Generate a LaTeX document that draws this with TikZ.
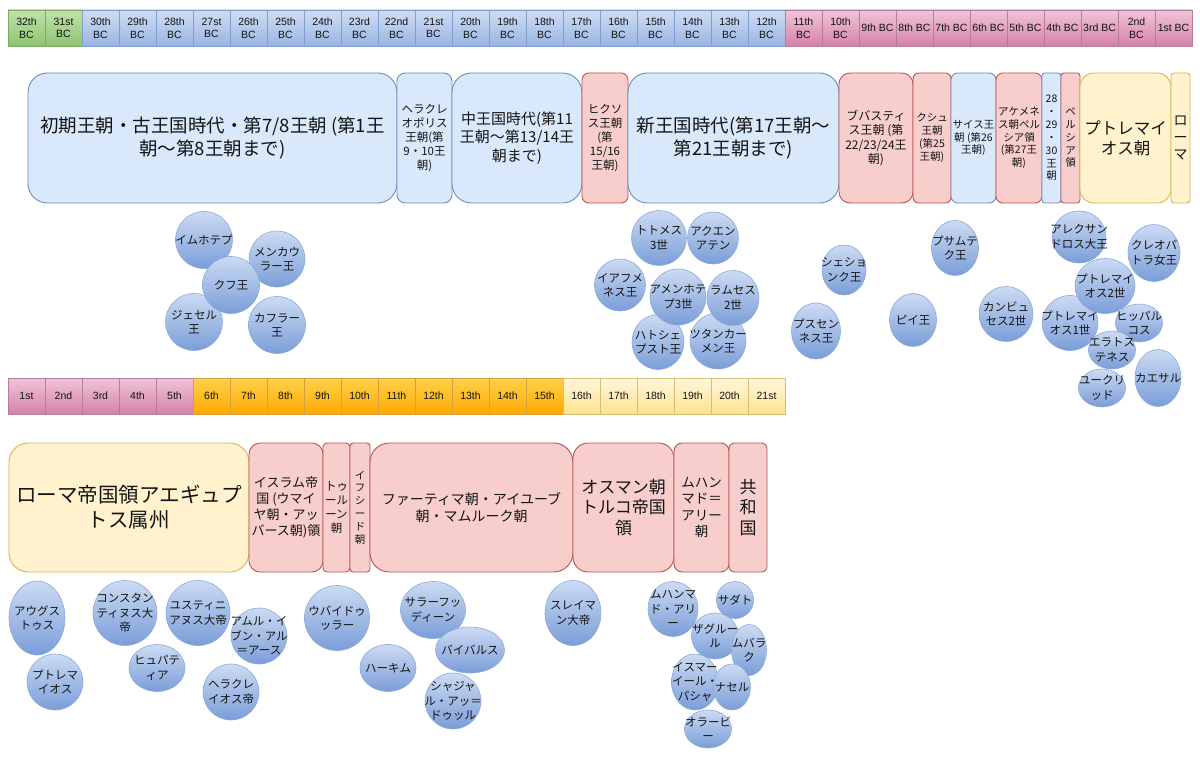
\documentclass[tikz,border=0pt]{standalone}
\usepackage{fontspec}
\setmainfont{Noto Sans CJK JP}
\newfontfamily\latinf{Liberation Sans}
\usetikzlibrary{shapes.geometric}
\definecolor{gtop}{RGB}{192,226,172}
\definecolor{gbot}{RGB}{142,196,112}
\definecolor{gbd}{RGB}{125,170,100}
\definecolor{btop}{RGB}{208,222,244}
\definecolor{bbot}{RGB}{152,180,226}
\definecolor{bbd}{RGB}{130,158,205}
\definecolor{ptop}{RGB}{240,196,216}
\definecolor{pbot}{RGB}{214,130,168}
\definecolor{pbd}{RGB}{180,125,155}
\definecolor{otop}{RGB}{255,210,75}
\definecolor{obot}{RGB}{255,168,0}
\definecolor{obd}{RGB}{215,160,60}
\definecolor{ytop}{RGB}{255,247,222}
\definecolor{ybot}{RGB}{255,226,140}
\definecolor{ybd}{RGB}{215,190,120}
\definecolor{blfill}{HTML}{DAE8FC}
\definecolor{blline}{HTML}{6C8EBF}
\definecolor{pkfill}{HTML}{F8CECC}
\definecolor{pkline}{HTML}{B85450}
\definecolor{ylfill}{HTML}{FFF2CC}
\definecolor{ylline}{HTML}{D6B656}
\definecolor{ctop}{RGB}{204,219,243}
\definecolor{cbot}{RGB}{122,157,216}
\definecolor{cbd}{RGB}{140,170,218}
\definecolor{txt}{RGB}{20,20,20}
\tikzset{
  cenbase/.style={minimum width=37pt, minimum height=36pt, inner sep=0pt, align=center,
    font=\latinf\fontsize{10.5}{12.5}\selectfont, line width=0.5pt, text=txt},
  cenG/.style={cenbase, draw=gbd, top color=gtop, bottom color=gbot},
  cenB/.style={cenbase, draw=bbd, top color=btop, bottom color=bbot},
  cenP/.style={cenbase, draw=pbd, top color=ptop, bottom color=pbot},
  cenO/.style={cenbase, draw=obd, top color=otop, bottom color=obot},
  cenY/.style={cenbase, draw=ybd, top color=ytop, bottom color=ybot},
  per/.style={draw, line width=0.9pt, inner sep=0pt, align=center, text=txt},
  perB/.style={per, draw=blline, fill=blfill},
  perP/.style={per, draw=pkline, fill=pkfill},
  perY/.style={per, draw=ylline, fill=ylfill},
  pers/.style={ellipse, draw=cbd, top color=ctop, bottom color=cbot, inner sep=0pt, line width=0.6pt},
  plab/.style={align=center, inner sep=0pt, text=txt, font=\fontsize{11.5}{14.5}\selectfont},
}
\newcommand\pbox[9]{\node[#2, minimum width=#5pt, minimum height=#6pt, rounded corners=#7pt,
  font=\fontsize{#8}{\fpeval{#8*1.22}}\selectfont] (#1) at (#3,#4) {#9};}
\newcommand\pp[6]{\node[pers, minimum width=#4pt, minimum height=#5pt,
  label={[plab]center:{#6}}] (#1) at (#2,#3) {};}
\begin{document}
\begin{tikzpicture}[x=1pt,y=-1pt]
\useasboundingbox (0,0) rectangle (1200,757);
\fill[white] (0,0) rectangle (1200,757);
% BC centuries
\foreach \t [count=\i] in {{32th\\BC},{31st\\BC}}
  \node[cenG] (bc\i) at ({26.5+37*(\i-1)},28) {\t};
\foreach \t [count=\i from 3] in {{30th\\BC},{29th\\BC},{28th\\BC},{27st\\BC},{26th\\BC},{25th\\BC},{24th\\BC},{23rd\\BC},{22nd\\BC},{21st\\BC},{20th\\BC},{19th\\BC},{18th\\BC},{17th\\BC},{16th\\BC},{15th\\BC},{14th\\BC},{13th\\BC},{12th\\BC}}
  \node[cenB] (bc\i) at ({26.5+37*(\i-1)},28) {\t};
\foreach \t [count=\i from 22] in {{11th\\BC},{10th\\BC},{9th BC},{8th BC},{7th BC},{6th BC},{5th BC},{4th BC},{3rd BC},{2nd\\BC},{1st BC}}
  \node[cenP] (bc\i) at ({26.5+37*(\i-1)},28) {\t};
% AD centuries
\foreach \t [count=\i] in {1st,2nd,3rd,4th,5th}
  \node[cenP] (ad\i) at ({26.5+37*(\i-1)},396) {\t};
\foreach \t [count=\i from 6] in {6th,7th,8th,9th,10th,11th,12th,13th,14th,15th}
  \node[cenO] (ad\i) at ({26.5+37*(\i-1)},396) {\t};
\foreach \t [count=\i from 16] in {16th,17th,18th,19th,20th,21st}
  \node[cenY] (ad\i) at ({26.5+37*(\i-1)},396) {\t};
% ancient periods
\pbox{early}{perB}{212.5}{138}{369}{130}{19.5}{18.5}{初期王朝・古王国時代・第7/8王朝 (第1王\\朝〜第8王朝まで)}
\pbox{hera}{perB}{424.5}{138}{55}{130}{8.25}{11.5}{ヘラクレ\\オポリス\\王朝(第\\9・10王\\朝)}
\pbox{middle}{perB}{517}{138}{130}{130}{19.5}{15}{中王国時代(第11\\王朝〜第13/14王\\朝まで)}
\pbox{hyksos}{perP}{605}{138}{46}{130}{6.9}{11.5}{ヒクソ\\ス王朝\\(第\\15/16\\王朝)}
\pbox{newk}{perB}{733.5}{138}{211}{130}{19.5}{18.5}{新王国時代(第17王朝〜\\第21王朝まで)}
\pbox{bubas}{perP}{876}{138}{74}{130}{11.1}{12}{ブバスティ\\ス王朝 (第\\22/23/24王\\朝)}
\pbox{kush}{perP}{932}{138}{38}{130}{5.7}{10.5}{クシュ\\王朝\\(第25\\王朝)}
\pbox{sais}{perB}{973.5}{138}{45}{130}{6.75}{10.5}{サイス王\\朝 (第26\\王朝)}
\pbox{achae}{perP}{1019}{138}{46}{130}{6.9}{10.5}{アケメネ\\ス朝ペル\\シア領\\(第27王\\朝)}
\pbox{late}{perB}{1051.5}{138}{19}{130}{2.85}{10.5}{28\\・\\29\\・\\30\\王\\朝}
\pbox{persia}{perP}{1070.5}{138}{19}{130}{2.85}{10.5}{ペ\\ル\\シ\\ア\\領}
\pbox{ptol}{perY}{1125.5}{138}{91}{130}{13.65}{16.5}{プトレマイ\\オス朝}
\pbox{rome}{perY}{1180.5}{138}{19}{130}{2.85}{14}{ロ\\ー\\マ}
% later periods
\pbox{egypt}{perY}{129}{507.5}{240}{129}{19.35}{20.5}{ローマ帝国領アエギュプ\\トス属州}
\pbox{islam}{perP}{286}{507.5}{74}{129}{11.1}{13}{イスラム帝\\国 (ウマイ\\ヤ朝・アッ\\バース朝)領}
\pbox{tulun}{perP}{336.5}{507.5}{27}{129}{4.05}{11.5}{トゥ\\ール\\ーン\\朝}
\pbox{ikhsh}{perP}{360}{507.5}{20}{129}{3}{10.5}{イ\\フ\\シ\\ー\\ド\\朝}
\pbox{fatim}{perP}{471.5}{507.5}{203}{129}{19.35}{14}{ファーティマ朝・アイユーブ\\朝・マムルーク朝}
\pbox{ottom}{perP}{623.5}{507.5}{101}{129}{15.15}{17}{オスマン朝\\トルコ帝国\\領}
\pbox{mali}{perP}{701.5}{507.5}{55}{129}{8.25}{13.5}{ムハン\\マド＝\\アリー\\朝}
\pbox{repub}{perP}{748}{507.5}{38}{129}{5.7}{17}{共\\和\\国}
% old kingdom persons
\pp{imhotep}{204}{240}{57}{57}{イムホテプ}
\pp{menkaure}{277}{259}{56}{56}{メンカウ\\ラー王}
\pp{djoser}{194}{322}{57}{57}{ジェセル\\王}
\pp{khafre}{277}{325}{57}{57}{カフラー\\王}
\pp{khufu}{231}{285}{57}{57}{クフ王}
% new kingdom persons
\pp{thutmose}{659}{238}{55}{55}{トトメス\\3世}
\pp{akhenaten}{713}{238}{51}{52}{アクエン\\アテン}
\pp{ahmose}{620}{285}{51}{52}{イアフメ\\ネス王}
\pp{hatshep}{658}{342}{52}{55}{ハトシェ\\プスト王}
\pp{tut}{718}{341}{56}{56}{ツタンカー\\メン王}
\pp{amenhotep}{678}{297}{56}{56}{アメンホテ\\プ3世}
\pp{ramesses}{733}{298}{52}{55}{ラムセス\\2世}
% late period persons
\pp{sheshonq}{844}{270}{44}{50}{シェショ\\ンク王}
\pp{psusennes}{816}{331}{49}{56}{プスセン\\ネス王}
\pp{psamtik}{955}{248}{47}{55}{プサムテ\\ク王}
\pp{piye}{913}{320}{47}{53}{ピイ王}
\pp{cambyses}{1006}{314}{54}{55}{カンビュ\\セス2世}
\pp{alexander}{1079}{237}{54}{52}{アレクサン\\ドロス大王}
\pp{ptolemy1}{1070}{323}{56}{55}{プトレマイ\\オス1世}
\pp{ptolemy2}{1105}{286}{60}{55}{プトレマイ\\オス2世}
\pp{hipparchus}{1139}{323}{47}{38}{ヒッパル\\コス}
\pp{eratos}{1112}{350}{47}{38}{エラトス\\テネス}
\pp{euclid}{1102}{388}{47}{38}{ユークリ\\ッド}
\pp{caesar}{1158}{378}{46}{57}{カエサル}
\pp{cleopatra}{1154}{253}{52}{57}{クレオパ\\トラ女王}
% roman and later persons
\pp{augustus}{37}{618}{56}{74}{アウグス\\トゥス}
\pp{ptolemy}{55}{682}{56}{56}{プトレマ\\イオス}
\pp{constantine}{125}{613}{64}{65}{コンスタン\\ティヌス大\\帝}
\pp{hypatia}{157}{668}{56}{47}{ヒュパテ\\ィア}
\pp{justinian}{198}{613}{64}{65}{ユスティニ\\アヌス大帝}
\pp{amr}{259}{636}{56}{56}{アムル・イ\\ブン・アル\\＝アース}
\pp{heraclius}{231}{692}{56}{56}{ヘラクレ\\イオス帝}
\pp{ubaydallah}{337}{618}{65}{65}{ウバイドゥ\\ッラー}
\pp{hakim}{388}{668}{56}{47}{ハーキム}
\pp{saladin}{433}{610}{65}{57}{サラーフッ\\ディーン}
\pp{baybars}{470}{650}{69}{46}{バイバルス}
\pp{shajar}{453}{701}{56}{56}{シャジャ\\ル・アッ＝\\ドゥッル}
\pp{suleiman}{573}{613}{56}{65}{スレイマ\\ン大帝}
\pp{muhammadali}{673}{609}{50}{55}{ムハンマ\\ド・アリ\\ー}
\pp{sadat}{735}{600}{37}{37}{サダト}
\pp{zaghloul}{715}{636}{47}{46}{ザグルー\\ル}
\pp{mubarak}{749}{650}{35}{51}{ムバラ\\ク}
\pp{ismail}{695}{682}{47}{56}{イスマー\\イール・\\パシャ}
\pp{nasser}{732}{687}{37}{46}{ナセル}
\pp{urabi}{708}{729}{47}{38}{オラービ\\ー}
\end{tikzpicture}
\end{document}
